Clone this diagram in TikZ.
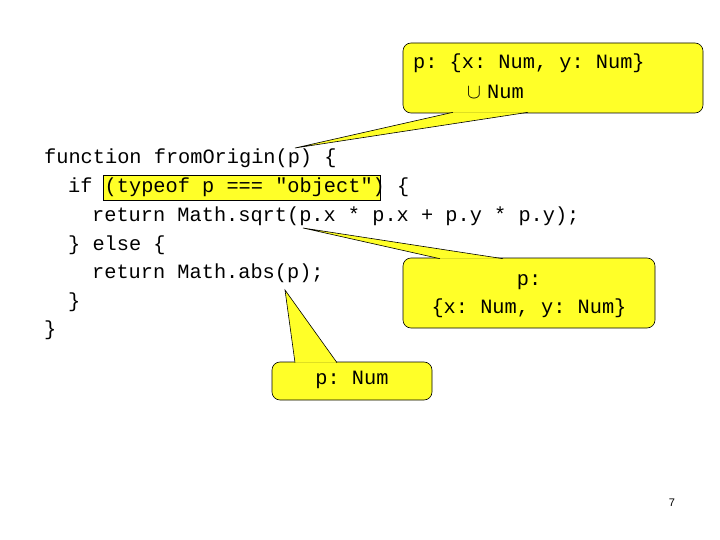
\documentclass[tikz,border=0pt]{standalone}
\usepackage{fontspec}
\setmonofont{Liberation Mono}
\setsansfont{Liberation Sans}
\definecolor{cy}{RGB}{255,255,40}
\begin{document}
\begin{tikzpicture}[x=1pt,y=-1pt,
  code/.style={anchor=west,inner sep=0pt,font=\fontsize{20.3}{22}\ttfamily},
  callout/.style={draw=black,fill=cy,rounded corners=8pt,line width=0.6pt},
  ctext/.style={inner sep=0pt,font=\fontsize{20.3}{22}\ttfamily}]
\useasboundingbox (0,0) rectangle (720,540);
% highlight box
\node[draw=black,fill=cy,line width=0.5pt,minimum width=277pt,minimum height=25pt,inner sep=0pt] (hl) at (241.5,188) {};
\node[code] (l1) at (44,158) {function fromOrigin(p) \{};
\node[code] (l2) at (68,187) {if (typeof p === "object") \{};
\node[code] (l3) at (92,216) {return Math.sqrt(p.x * p.x + p.y * p.y);};
\node[code] (l4) at (68,245) {\} else \{};
\node[code] (l5) at (92,273) {return Math.abs(p);};
\node[code] (l6) at (68,302) {\}};
\node[code] (l7) at (44,330) {\}};
% top callout
\node[callout,minimum width=300pt,minimum height=70pt] (c1) at (553,78) {};
\node[ctext,anchor=west] (t1a) at (413,63) {p: \{x: Num, y: Num\}};
\node[ctext,anchor=west] (t1b) at (467,92) {\rmfamily$\cup$ \ttfamily Num};
\coordinate (p1a) at (453,112.3);
\coordinate (p1b) at (528,112.3);
\coordinate (p1t) at (295,148);
\fill[cy] (p1a)--(p1t)--(p1b)--cycle;
\draw[line width=0.6pt] (p1a)--(p1t)--(p1b);
% right callout
\node[callout,minimum width=252pt,minimum height=70pt] (c2) at (529,293) {};
\node[ctext] (t2a) at (529,282) {p:};
\node[ctext] (t2b) at (529,308) {\{x: Num, y: Num\}};
\coordinate (p2a) at (440,258.7);
\coordinate (p2b) at (503,258.7);
\coordinate (p2t) at (303,228);
\fill[cy] (p2a)--(p2t)--(p2b)--cycle;
\draw[line width=0.6pt] (p2a)--(p2t)--(p2b);
% bottom callout
\node[callout,minimum width=160pt,minimum height=38pt] (c3) at (352,381) {};
\node[ctext] (t3) at (352,380) {p: Num};
\coordinate (p3a) at (295,362.7);
\coordinate (p3b) at (337,362.7);
\coordinate (p3t) at (285,290);
\fill[cy] (p3a)--(p3t)--(p3b)--cycle;
\draw[line width=0.6pt] (p3a)--(p3t)--(p3b);
\node[inner sep=0pt,font=\fontsize{11}{12}\sffamily] (pg) at (672,503) {7};
\end{tikzpicture}
\end{document}
